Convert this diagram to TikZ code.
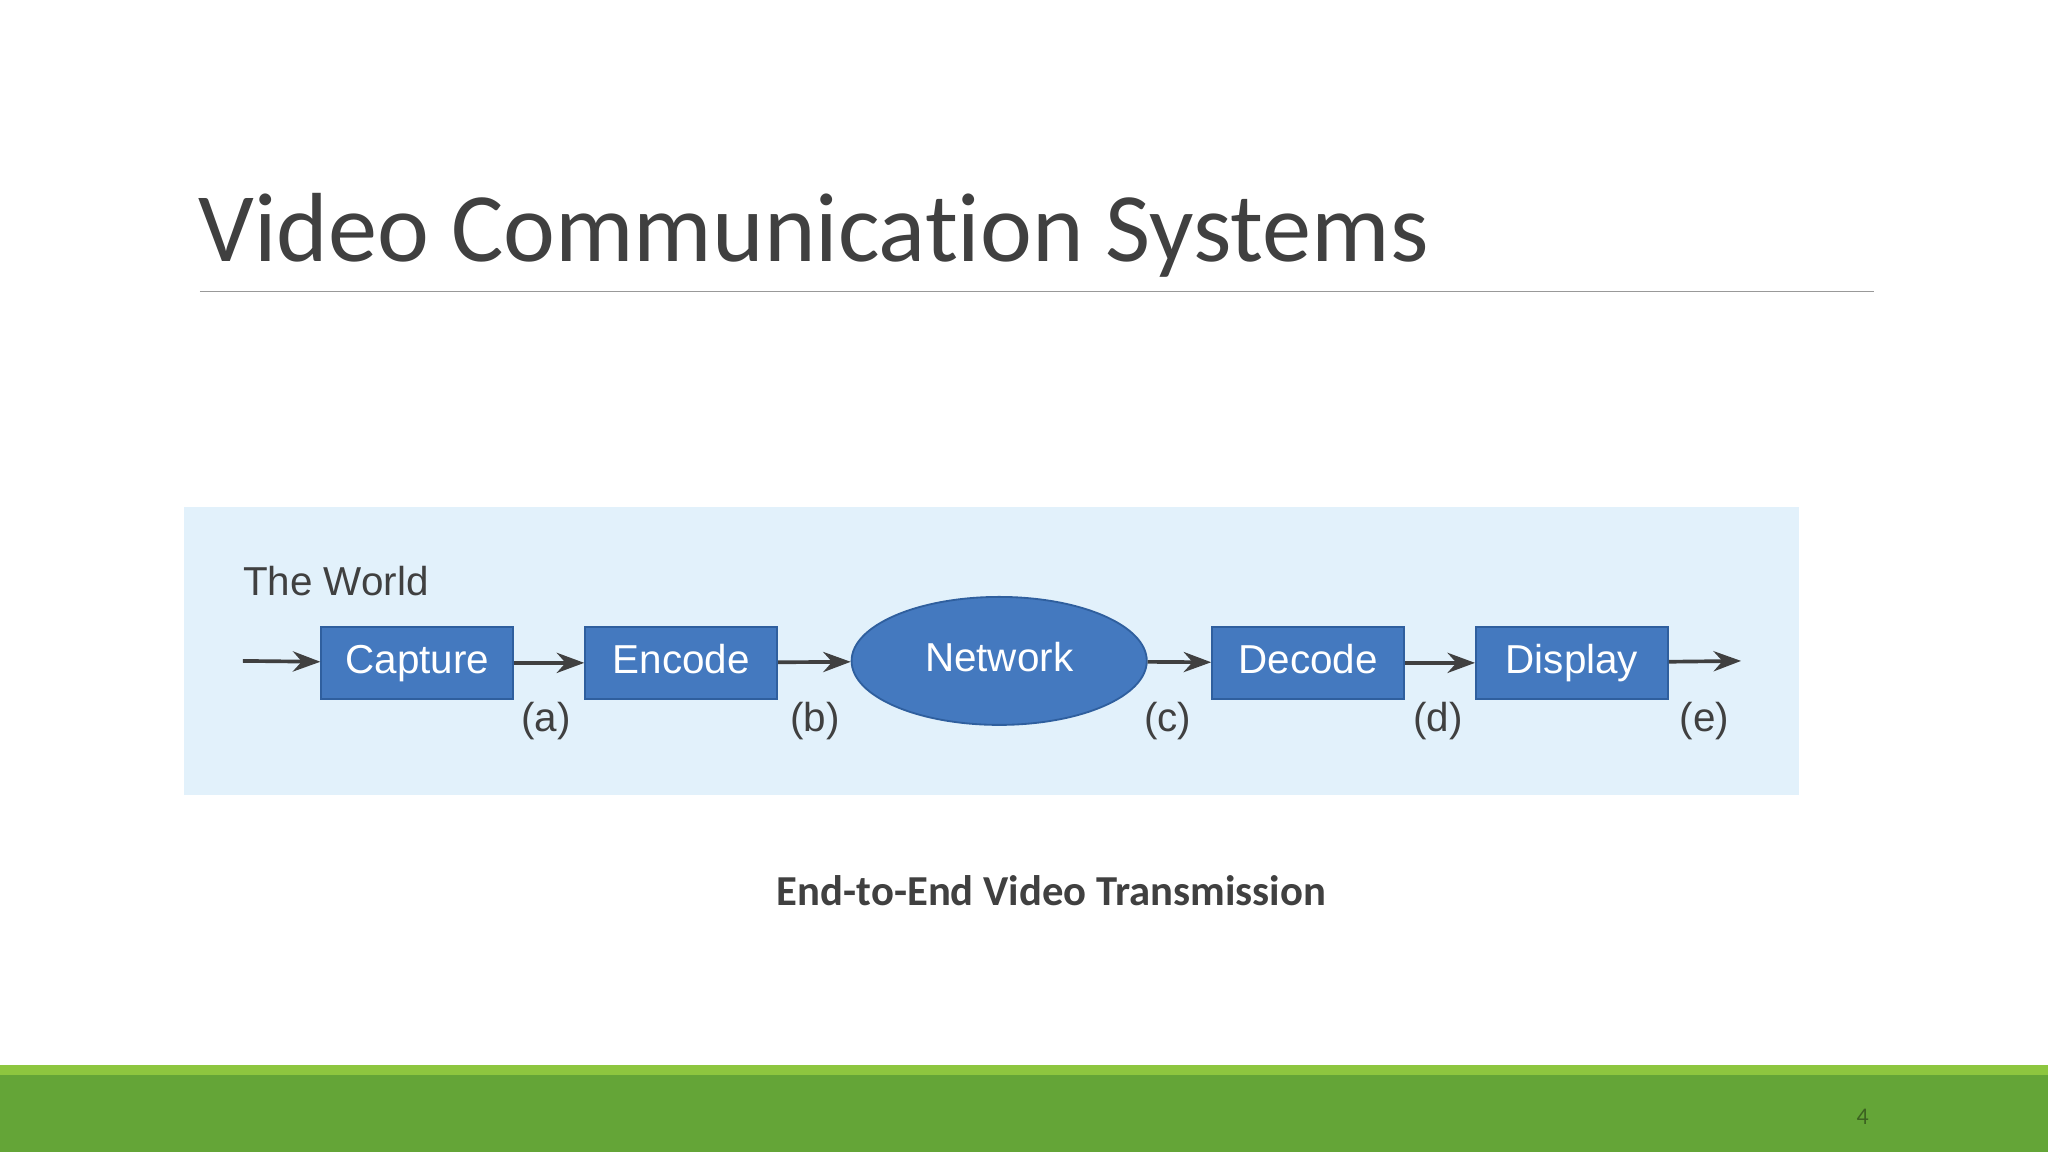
\documentclass[tikz,border=0pt]{standalone}
\usepackage{fontspec}
\setmainfont[Ligatures=NoCommon]{Carlito}
\newfontfamily\arial{Liberation Sans}
\usetikzlibrary{shapes.geometric,arrows.meta}
\definecolor{titlegray}{HTML}{404040}
\definecolor{panel}{HTML}{E2F1FB}
\definecolor{boxblue}{HTML}{4479BF}
\definecolor{boxedge}{HTML}{2F5F9E}
\definecolor{lgreen}{HTML}{8DC63F}
\definecolor{dgreen}{HTML}{64A537}
\begin{document}
\begin{tikzpicture}[x=0.05cm,y=-0.05cm,
  blk/.style={draw=boxedge,fill=boxblue,line width=2pt,minimum width=147*0.05cm,minimum height=55*0.05cm,inner sep=0pt,text=white,text height=32pt,text depth=8pt,font=\arial\fontsize{44}{44}\selectfont},
  conn/.style={draw=black!75,line width=4pt,-{Stealth[length=30pt,width=22pt]}},
  lab/.style={text=black!75,font=\arial\fontsize{44}{44}\selectfont}]
\useasboundingbox (0,0) rectangle (1568,882);
\fill[white] (0,0) rectangle (1568,882);
\node[anchor=base west,inner sep=0pt,text=titlegray,font=\fontsize{107}{107}\selectfont] (title) at (152,200) {Video Communication Systems};
\draw[black!40,line width=1.5pt] (153,223) -- (1435,223);
\fill[panel] (141,388) rectangle (1377,609);
\node[anchor=base west,inner sep=0pt,lab] (world) at (186,456) {The World};
\coordinate (in) at (186,506);
\coordinate (out) at (1333,506);
\node[blk] (cap) at (319.5,507.5) {Capture};
\node[blk] (enc) at (521.5,507.5) {Encode};
\node[ellipse,draw=boxedge,fill=boxblue,line width=2pt,minimum width=226*0.05cm,minimum height=98*0.05cm,inner sep=0pt,text=white,text height=32pt,text depth=8pt,font=\arial\fontsize{44}{44}\selectfont] (net) at (765,506) {Network};
\node[blk] (dec) at (1001.5,507.5) {Decode};
\node[blk] (dis) at (1203.5,507.5) {Display};
\draw[conn] (in) -- (cap);
\draw[conn] (cap) -- (enc);
\draw[conn] (enc) -- (net);
\draw[conn] (net) -- (dec);
\draw[conn] (dec) -- (dis);
\draw[conn] (dis) -- (out);
\node[lab] (la) at (418,552) {(a)};
\node[lab] (lb) at (624,552) {(b)};
\node[lab] (lc) at (894,552) {(c)};
\node[lab] (ld) at (1101,552) {(d)};
\node[lab] (le) at (1305,552) {(e)};
\node[text=titlegray,font=\bfseries\fontsize{46.5}{46.5}\selectfont] (cap2) at (805,682) {End-to-End Video Transmission};
\fill[lgreen] (0,815) rectangle (1568,823);
\fill[dgreen] (0,823) rectangle (1568,882);
\node[text=black!40!dgreen,font=\fontsize{26}{26}\selectfont] (pg) at (1426,855) {4};
\end{tikzpicture}
\end{document}
